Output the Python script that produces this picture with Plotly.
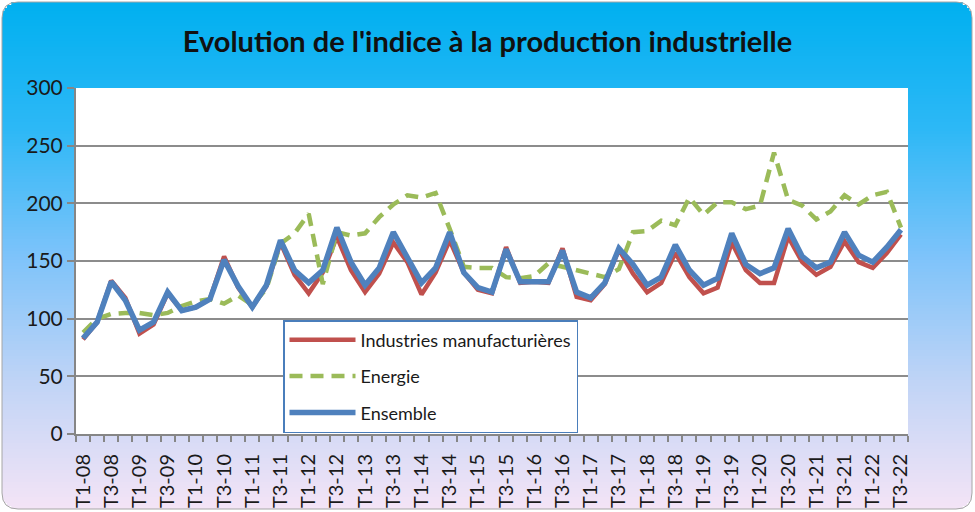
import plotly.graph_objects as go

# ---------------- data ----------------
quarters = [f"T{q}-{y:02d}" for y in range(8, 23) for q in range(1, 5)][:59]
tick_labels = quarters[::2]

manufacturieres = [82, 97, 133, 118, 87, 95, 122, 107, 110, 117,
                   154, 127, 110, 128, 166, 138, 122, 140, 171, 142,
                   123, 139, 166, 149, 121, 140, 168, 140, 125, 122,
                   162, 131, 132, 131, 161, 119, 116, 130, 160, 139,
                   123, 131, 157, 136, 122, 127, 166, 142, 131, 131,
                   171, 149, 138, 145, 167, 149, 144, 157, 173]

energie = [88, 100, 104, 105, 105, 103, 105, 111, 115, 117,
           113, 120, 112, 126, 165, 174, 191, 130, 175, 172,
           174, 188, 199, 207, 205, 209, 178, 145, 144, 144,
           136, 135, 137, 148, 145, 142, 139, 136, 143, 175,
           176, 185, 181, 205, 190, 201, 201, 195, 198, 244,
           203, 198, 186, 193, 207, 199, 207, 210, 179]

ensemble = [83, 97, 132, 116, 90, 97, 123, 107, 110, 117,
            151, 128, 110, 129, 168, 142, 131, 142, 179, 149,
            129, 144, 175, 154, 131, 144, 175, 140, 127, 123,
            160, 132, 132, 132, 159, 123, 118, 131, 161, 147,
            129, 136, 164, 142, 129, 135, 174, 147, 139, 144,
            178, 154, 144, 149, 175, 155, 149, 162, 177]

y_ticks = [0, 50, 100, 150, 200, 250, 300]

# ---------------- layout geometry ----------------
W, H = 975, 512
ML, MR, MT, MB = 76, 67, 88, 78
PW, PH = W - ML - MR, H - MT - MB
FONT = "Lato, 'Open Sans', sans-serif"


def fx(px):
    return (px - ML) / PW


def fy(py):
    return (H - MB - py) / PH


stops = [(0.0, (0, 176, 240)), (0.25, (45, 184, 246)), (0.5, (125, 195, 250)),
         (0.75, (192, 212, 246)), (1.0, (244, 228, 246))]


def grad(t):
    for (t0, c0), (t1, c1) in zip(stops[:-1], stops[1:]):
        if t <= t1:
            f = (t - t0) / (t1 - t0)
            return "rgb(%d,%d,%d)" % tuple(round(a + (b - a) * f) for a, b in zip(c0, c1))
    return "rgb(%d,%d,%d)" % stops[-1][1]


shapes = []
L, R, T, B, RAD = 2, 972, 2, 509, 16
step = 3
yy = T
while yy < B:
    y1 = min(yy + step, B)
    mid = (yy + y1) / 2
    d = None
    if mid - T < RAD:
        d = RAD - (mid - T)
    elif B - mid < RAD:
        d = RAD - (B - mid)
    inset = 0
    if d is not None:
        inset = RAD - (RAD ** 2 - d ** 2) ** 0.5
    shapes.append(dict(type="rect", xref="paper", yref="paper", layer="below",
                       x0=fx(L + inset), x1=fx(R - inset), y0=fy(y1), y1=fy(yy),
                       fillcolor=grad((mid - T) / (B - T)), line=dict(width=0)))
    yy = y1

# outline
p = (f"M{fx(L+RAD)},{fy(T)} L{fx(R-RAD)},{fy(T)} Q{fx(R)},{fy(T)} {fx(R)},{fy(T+RAD)} "
     f"L{fx(R)},{fy(B-RAD)} Q{fx(R)},{fy(B)} {fx(R-RAD)},{fy(B)} "
     f"L{fx(L+RAD)},{fy(B)} Q{fx(L)},{fy(B)} {fx(L)},{fy(B-RAD)} "
     f"L{fx(L)},{fy(T+RAD)} Q{fx(L)},{fy(T)} {fx(L+RAD)},{fy(T)} Z")
shapes.append(dict(type="path", xref="paper", yref="paper", layer="below", path=p,
                   line=dict(color="#a6a6a6", width=1)))
# white plot area
shapes.append(dict(type="rect", xref="paper", yref="paper", layer="below",
                   x0=0, x1=1, y0=0, y1=1, fillcolor="white", line=dict(width=0)))

x_idx = list(range(len(quarters)))

fig = go.Figure()
fig.add_trace(go.Scatter(x=x_idx, y=manufacturieres, mode="lines",
                         name="Industries manufacturières", legendgroup="a",
                         line=dict(color="#C0504D", width=4.5)))
fig.add_trace(go.Scatter(x=x_idx, y=energie, mode="lines", name="Energie", legendgroup="b",
                         line=dict(color="#9BBB59", width=4.5, dash="13px,8px")))
fig.add_trace(go.Scatter(x=x_idx, y=ensemble, mode="lines", name="Ensemble", legendgroup="c",
                         line=dict(color="#4F81BD", width=5.5)))

tick_idx = [quarters.index(t) for t in tick_labels]

fig.update_layout(
    width=W, height=H,
    margin=dict(l=ML, r=MR, t=MT, b=MB, pad=0, autoexpand=False),
    paper_bgcolor="white", plot_bgcolor="white",
    shapes=shapes,
    font=dict(family=FONT, color="#1a1a1a"),
    title=dict(text="<b>Evolution de l'indice à la production industrielle</b>",
               x=0.5, xref="container", xanchor="center",
               y=1 - 42 / H, yref="container", yanchor="middle",
               font=dict(family=FONT, size=29, color="#111")),
    showlegend=True,
    legend=dict(x=fx(283), y=fy(320), xanchor="left", yanchor="top",
                bgcolor="white", bordercolor="#4a7ebb", borderwidth=1.5,
                font=dict(family=FONT, size=18, color="#1a1a1a"),
                traceorder="grouped", tracegroupgap=10, itemwidth=66),
    xaxis=dict(range=[-0.5, len(quarters) - 0.5], tickmode="array",
               tickvals=tick_idx, ticktext=tick_labels, tickangle=-90,
               ticks="", ticklabelstandoff=10, automargin=False,
               tickfont=dict(family=FONT, size=20, color="#1a1a1a"),
               showgrid=False, zeroline=False,
               showline=True, linecolor="#868686", linewidth=2,
               minor=dict(ticks="outside", ticklen=6, tickwidth=1.5, tickcolor="#868686",
                          tickmode="array",
                          tickvals=[i - 0.5 for i in range(len(quarters) + 1)],
                          showgrid=False)),
    yaxis=dict(range=[0, 300], tickmode="array", tickvals=y_ticks, automargin=False,
               ticks="outside", ticklen=7, tickwidth=1.5, tickcolor="#868686",
               tickfont=dict(family=FONT, size=21, color="#1a1a1a"),
               showgrid=True, gridcolor="#8c8c8c", gridwidth=1.5,
               zeroline=False, showline=True, linecolor="#868686", linewidth=2),
)

fig.write_html("out.html", config={"displayModeBar": False},
               post_script="document.body.style.margin='0';document.body.style.overflow='hidden';")
